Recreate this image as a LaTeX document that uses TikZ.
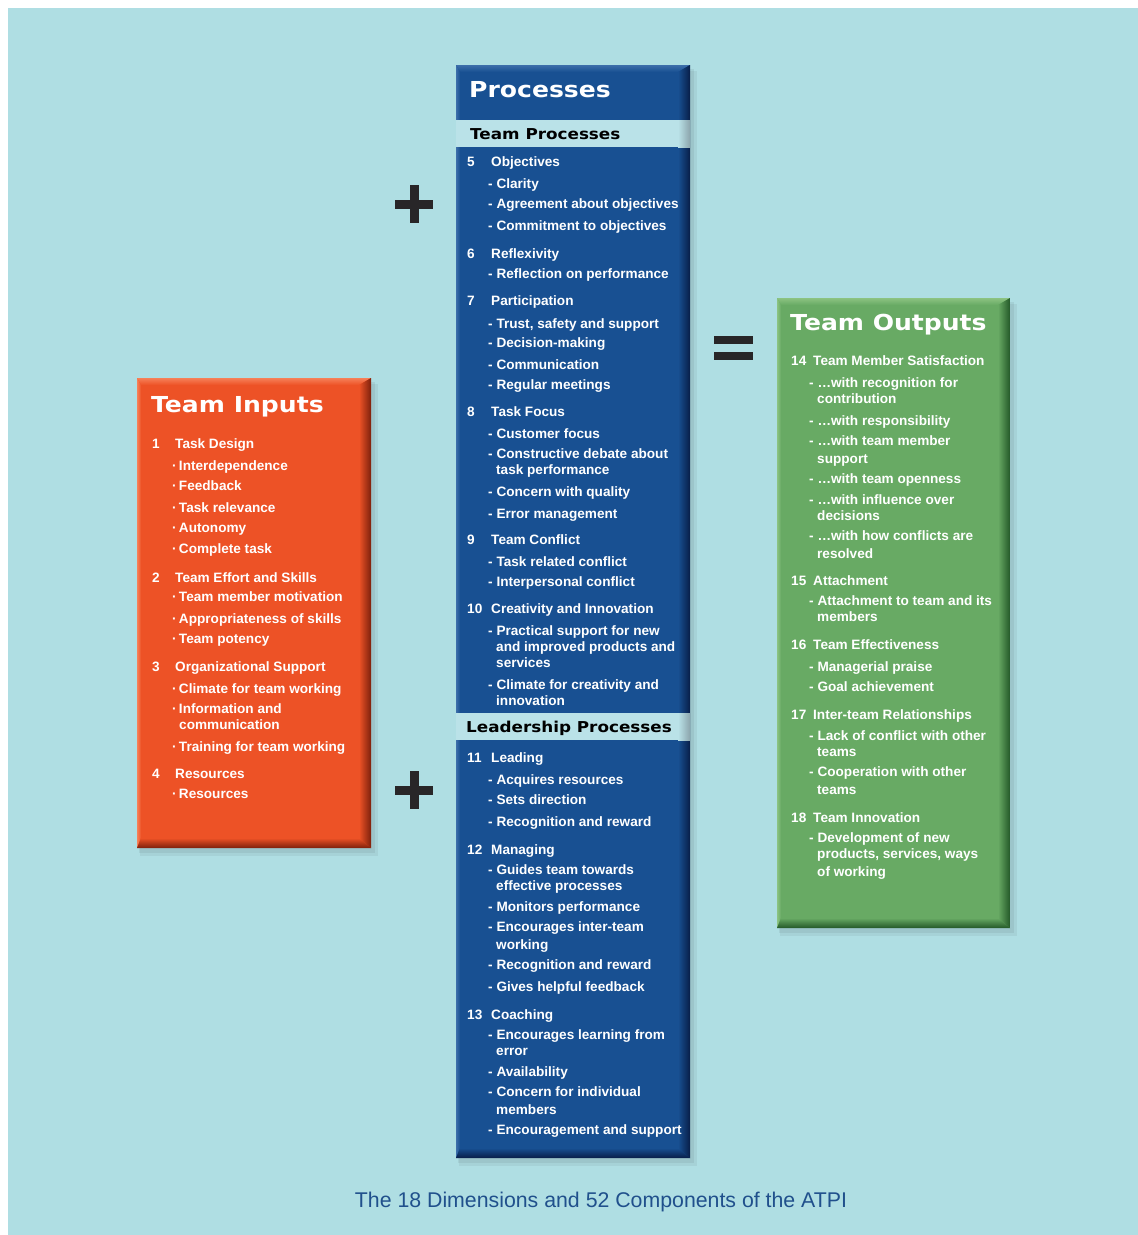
\documentclass[tikz,border=0pt]{standalone}
\usepackage{fontspec}
\setmainfont{Liberation Sans}
\newfontfamily\ttlfont[FakeStretch=1.14]{DejaVu Sans Bold}
\newfontfamily\bandfont[FakeStretch=1.12]{DejaVu Sans Bold}
\definecolor{bgc}{RGB}{175,222,227}
\definecolor{orgmain}{RGB}{237,82,38}
\definecolor{orglight}{RGB}{246,128,88}
\definecolor{orgdark}{RGB}{125,32,12}
\definecolor{blumain}{RGB}{24,80,146}
\definecolor{blulight}{RGB}{60,110,170}
\definecolor{bludark}{RGB}{8,30,72}
\definecolor{grnmain}{RGB}{104,170,100}
\definecolor{grnlight}{RGB}{140,195,130}
\definecolor{grndark}{RGB}{35,88,40}
\definecolor{bandc}{RGB}{186,226,232}
\definecolor{bandgray}{RGB}{140,165,172}
\definecolor{capc}{RGB}{32,80,140}
\definecolor{signc}{RGB}{40,38,40}
\newcommand\bevelbox[7]{%
  \fill[black,opacity=0.05] (#1+3,#2+6) rectangle (#3+7,#4+8);
  \fill[black,opacity=0.06] (#1+2,#2+4) rectangle (#3+4,#4+5);
  \fill[#5] (#1,#2) rectangle (#3,#4);
  \shade[top color=#6,bottom color=#5] (#1,#2) -- (#3,#2) -- (#3-12,#2+7) -- (#1+4,#2+7) -- cycle;
  \shade[left color=#6,right color=#5] (#1,#2) -- (#1+4,#2+7) -- (#1+4,#4-10) -- (#1,#4) -- cycle;
  \shade[left color=#5,right color=#7] (#3,#2) -- (#3,#4) -- (#3-12,#4-10) -- (#3-12,#2+7) -- cycle;
  \shade[top color=#5,bottom color=#7] (#1,#4) -- (#3,#4) -- (#3-12,#4-10) -- (#1+4,#4-10) -- cycle;
}
\tikzset{
  tx/.style={anchor=base west, inner sep=0pt, yshift=-5pt, text=white,
    font=\bfseries\fontsize{13.6}{15}\selectfont},
  ttl/.style={anchor=base west, inner sep=0pt, text=white,
    font=\ttlfont\fontsize{22}{24}\selectfont},
  bandtx/.style={anchor=base west, inner sep=0pt, text=black,
    font=\bandfont\fontsize{15}{17}\selectfont},
  signbar/.style={line width=9pt, signc},
}
\begin{document}
\begin{tikzpicture}[x=1pt,y=-1pt]
\useasboundingbox (0,0) rectangle (1138,1235);
\fill[white] (0,0) rectangle (1138,1235);
\fill[bgc] (8,8) rectangle (1138,1235);

% boxes
\bevelbox{137}{378}{371}{848}{orgmain}{orglight}{orgdark}
\bevelbox{456}{65}{690}{1158}{blumain}{blulight}{bludark}
\bevelbox{777}{298}{1010}{928}{grnmain}{grnlight}{grndark}

% bands in processes box
\fill[bandc] (456,120) rectangle (678,147);
\shade[left color=bandc,right color=bandgray] (678,120) rectangle (690,147);
\fill[bandc] (456,713) rectangle (678,740);
\shade[left color=bandc,right color=bandgray] (678,713) rectangle (690,740);

% signs
\draw[signbar] (395,204) -- (433,204);
\draw[signbar] (414,185) -- (414,223);
\draw[signbar] (395,790) -- (433,790);
\draw[signbar] (414,771) -- (414,809);
\draw[line width=8pt, signc] (714,340) -- (753,340);
\draw[line width=8pt, signc] (714,356) -- (753,356);

% ---------- Team Inputs ----------
\node[ttl] (tin) at (151,412) {Team Inputs};
\node[tx] (ih1n) at (152,443) {1};
\node[tx] (ih1) at (175,443) {Task Design};
\node[tx] (i1a) at (172,465) {·\,Interdependence};
\node[tx] (i1b) at (172,485) {·\,Feedback};
\node[tx] (i1c) at (172,507) {·\,Task relevance};
\node[tx] (i1d) at (172,527) {·\,Autonomy};
\node[tx] (i1e) at (172,548) {·\,Complete task};
\node[tx] (ih2n) at (152,577) {2};
\node[tx] (ih2) at (175,577) {Team Effort and Skills};
\node[tx] (i2a) at (172,596) {·\,Team member motivation};
\node[tx] (i2b) at (172,618) {·\,Appropriateness of skills};
\node[tx] (i2c) at (172,638) {·\,Team potency};
\node[tx] (ih3n) at (152,666) {3};
\node[tx] (ih3) at (175,666) {Organizational Support};
\node[tx] (i3a) at (172,688) {·\,Climate for team working};
\node[tx] (i3b) at (172,708) {·\,Information and};
\node[tx] (i3b2) at (179,724) {communication};
\node[tx] (i3c) at (172,746) {·\,Training for team working};
\node[tx] (ih4n) at (152,773) {4};
\node[tx] (ih4) at (175,773) {Resources};
\node[tx] (i4a) at (172,793) {·\,Resources};

% ---------- Processes ----------
\node[ttl] (tpr) at (469,97) {Processes};
\node[bandtx] (bnd1) at (470,139) {Team Processes};
\node[tx] (p5n) at (467,161) {5};
\node[tx] (p5) at (491,161) {Objectives};
\node[tx] (b5a) at (488,183) {- Clarity};
\node[tx] (b5b) at (488,203) {- Agreement about objectives};
\node[tx] (b5c) at (488,225) {- Commitment to objectives};
\node[tx] (p6n) at (467,253) {6};
\node[tx] (p6) at (491,253) {Reflexivity};
\node[tx] (b6a) at (488,273) {- Reflection on performance};
\node[tx] (p7n) at (467,300) {7};
\node[tx] (p7) at (491,300) {Participation};
\node[tx] (b7a) at (488,323) {- Trust, safety and support};
\node[tx] (b7b) at (488,342) {- Decision-making};
\node[tx] (b7c) at (488,364) {- Communication};
\node[tx] (b7d) at (488,384) {- Regular meetings};
\node[tx] (p8n) at (467,411) {8};
\node[tx] (p8) at (491,411) {Task Focus};
\node[tx] (b8a) at (488,433) {- Customer focus};
\node[tx] (b8b) at (488,453) {- Constructive debate about};
\node[tx] (b8b2) at (496,469) {task performance};
\node[tx] (b8c) at (488,491) {- Concern with quality};
\node[tx] (b8d) at (488,513) {- Error management};
\node[tx] (p9n) at (467,539) {9};
\node[tx] (p9) at (491,539) {Team Conflict};
\node[tx] (b9a) at (488,561) {- Task related conflict};
\node[tx] (b9b) at (488,581) {- Interpersonal conflict};
\node[tx] (p10n) at (467,608) {10};
\node[tx] (p10) at (491,608) {Creativity and Innovation};
\node[tx] (b10a) at (488,630) {- Practical support for new};
\node[tx] (b10a2) at (496,646) {and improved products and};
\node[tx] (b10a3) at (496,662) {services};
\node[tx] (b10b) at (488,684) {- Climate for creativity and};
\node[tx] (b10b2) at (496,700) {innovation};
\node[bandtx] (bnd2) at (466,732) {Leadership Processes};
\node[tx] (p11n) at (467,757) {11};
\node[tx] (p11) at (491,757) {Leading};
\node[tx] (b11a) at (488,779) {- Acquires resources};
\node[tx] (b11b) at (488,799) {- Sets direction};
\node[tx] (b11c) at (488,821) {- Recognition and reward};
\node[tx] (p12n) at (467,849) {12};
\node[tx] (p12) at (491,849) {Managing};
\node[tx] (b12a) at (488,869) {- Guides team towards};
\node[tx] (b12a2) at (496,885) {effective processes};
\node[tx] (b12b) at (488,906) {- Monitors performance};
\node[tx] (b12c) at (488,926) {- Encourages inter-team};
\node[tx] (b12c2) at (496,944) {working};
\node[tx] (b12d) at (488,964) {- Recognition and reward};
\node[tx] (b12e) at (488,986) {- Gives helpful feedback};
\node[tx] (p13n) at (467,1014) {13};
\node[tx] (p13) at (491,1014) {Coaching};
\node[tx] (b13a) at (488,1034) {- Encourages learning from};
\node[tx] (b13a2) at (496,1050) {error};
\node[tx] (b13b) at (488,1071) {- Availability};
\node[tx] (b13c) at (488,1091) {- Concern for individual};
\node[tx] (b13c2) at (496,1109) {members};
\node[tx] (b13d) at (488,1129) {- Encouragement and support};

% ---------- Team Outputs ----------
\node[ttl] (tout) at (790,330) {Team Outputs};
\node[tx] (o14n) at (791,360) {14};
\node[tx] (o14) at (813,360) {Team Member Satisfaction};
\node[tx] (o1a) at (809,382) {- …with recognition for};
\node[tx] (o1a2) at (817,398) {contribution};
\node[tx] (o1b) at (809,420) {- …with responsibility};
\node[tx] (o1c) at (809,440) {- …with team member};
\node[tx] (o1c2) at (817,458) {support};
\node[tx] (o1d) at (809,478) {- …with team openness};
\node[tx] (o1e) at (809,499) {- …with influence over};
\node[tx] (o1e2) at (817,515) {decisions};
\node[tx] (o1f) at (809,535) {- …with how conflicts are};
\node[tx] (o1f2) at (817,553) {resolved};
\node[tx] (o15n) at (791,580) {15};
\node[tx] (o15) at (813,580) {Attachment};
\node[tx] (o2a) at (809,600) {- Attachment to team and its};
\node[tx] (o2a2) at (817,616) {members};
\node[tx] (o16n) at (791,644) {16};
\node[tx] (o16) at (813,644) {Team Effectiveness};
\node[tx] (o3a) at (809,666) {- Managerial praise};
\node[tx] (o3b) at (809,686) {- Goal achievement};
\node[tx] (o17n) at (791,714) {17};
\node[tx] (o17) at (813,714) {Inter-team Relationships};
\node[tx] (o4a) at (809,735) {- Lack of conflict with other};
\node[tx] (o4a2) at (817,751) {teams};
\node[tx] (o4b) at (809,771) {- Cooperation with other};
\node[tx] (o4b2) at (817,789) {teams};
\node[tx] (o18n) at (791,817) {18};
\node[tx] (o18) at (813,817) {Team Innovation};
\node[tx] (o5a) at (809,837) {- Development of new};
\node[tx] (o5a2) at (817,853) {products, services, ways};
\node[tx] (o5a3) at (817,871) {of working};

% caption
\node[anchor=base, inner sep=0pt, text=capc, font=\fontsize{21.3}{23}\selectfont] (cap) at (601,1207) {The 18 Dimensions and 52 Components of the ATPI};
\end{tikzpicture}
\end{document}
